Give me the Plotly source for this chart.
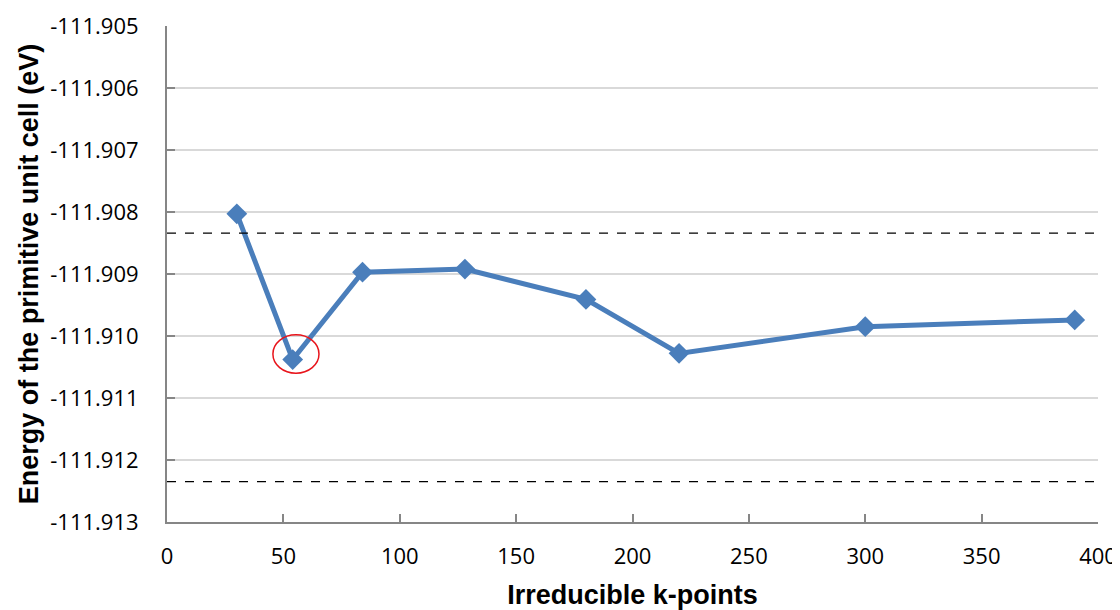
import plotly.graph_objects as go

kpoints = [30, 54, 84, 128, 180, 220, 300, 390]
energy = [-111.90803, -111.91038, -111.90897, -111.90892, -111.90941, -111.91028, -111.90985, -111.90974]
band_upper = -111.90834
band_lower = -111.91235
y_ticks = [-111.905, -111.906, -111.907, -111.908, -111.909, -111.910, -111.911, -111.912, -111.913]
x_ticks = [0, 50, 100, 150, 200, 250, 300, 350, 400]
circle_x = [45.5, 65.3]
circle_y = [-111.90998, -111.91060]

fig = go.Figure()
fig.add_trace(go.Scatter(
    x=kpoints, y=energy, mode="lines+markers",
    line=dict(color="#4A7EBB", width=5),
    marker=dict(symbol="diamond", size=16, color="#4A7EBB"),
    showlegend=False,
))

for yv in [band_upper, band_lower]:
    fig.add_shape(type="line", xref="paper", yref="y", x0=0, x1=1.004, y0=yv, y1=yv,
                  line=dict(color="black", width=1.2, dash="dash"))

fig.add_shape(type="circle", xref="x", yref="y",
              x0=circle_x[0], x1=circle_x[1], y0=circle_y[0], y1=circle_y[1],
              line=dict(color="#E8141B", width=1.5))

tick_font = dict(family="Open Sans, Liberation Sans, sans-serif", size=22, color="black")
title_font = dict(family="Liberation Sans, Arial, sans-serif", size=27, color="black")

# page body has an 8px margin, so the figure is sized/margined to compensate
fig.update_layout(
    width=1112, height=602,
    margin=dict(l=159, r=22, t=18, b=88),
    paper_bgcolor="white", plot_bgcolor="white",
    xaxis=dict(
        range=[0, 400], tickvals=x_ticks, ticktext=[str(v) for v in x_ticks],
        showgrid=False, zeroline=False, automargin=False,
        showline=True, linecolor="#868686", linewidth=2,
        ticks="inside", ticklen=8, tickcolor="#868686", tickwidth=1.5,
        tickfont=tick_font, ticklabelstandoff=14,
        title=dict(text="<b>Irreducible k-points</b>", font=title_font, standoff=16),
    ),
    yaxis=dict(
        range=[-111.913, -111.905], tickvals=y_ticks,
        ticktext=[f"{v:.3f}" for v in y_ticks],
        showgrid=True, gridcolor="#D9D9D9", gridwidth=1.5, zeroline=False, automargin=False,
        showline=True, linecolor="#868686", linewidth=2,
        ticks="inside", ticklen=8, tickcolor="#868686", tickwidth=1.5,
        tickfont=tick_font, ticklabelstandoff=22,
        title=dict(text="<b>Energy of the primitive unit cell (eV)</b>", font=title_font, standoff=4),
    ),
)

fig.write_html("out.html")
